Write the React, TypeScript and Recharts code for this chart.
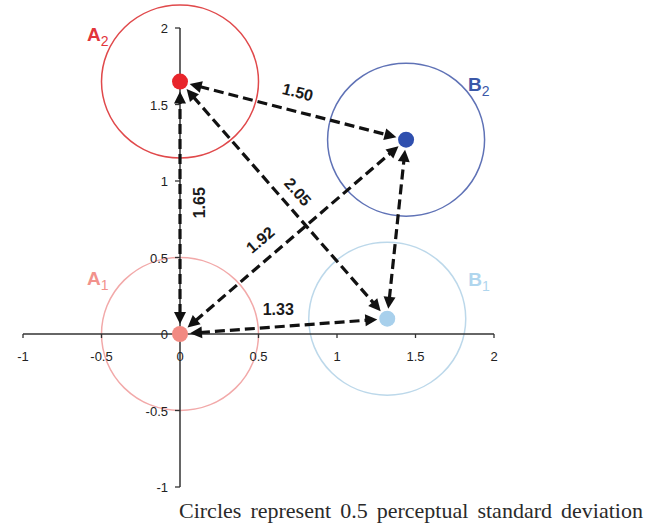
import React from 'react'
import { ScatterChart, Scatter, XAxis, YAxis, ReferenceLine, ReferenceArea, ReferenceDot } from 'recharts'

// stimulus positions in perceptual space
const pointNames = ['A1', 'A2', 'B1', 'B2']
const pointX = [0, 0, 1.32, 1.44]
const pointY = [0, 1.65, 0.1, 1.27]
const circleRadius = 0.5

// pairwise distances
const edgeFrom = ['A1', 'A1', 'A1', 'A2', 'A2', 'B1']
const edgeTo = ['A2', 'B1', 'B2', 'B1', 'B2', 'B2']
const edgeLabels = ['1.65', '1.33', '1.92', '2.05', '1.50', '']

const axisTicks = [-1, -0.5, 0, 0.5, 1, 1.5, 2]
const axisTickLabels = ['-1', '-0.5', '0', '0.5', '1', '1.5', '2']

const caption = 'Circles represent 0.5 perceptual standard deviation'

const points = pointNames.map((name, i) => ({ name, x: pointX[i], y: pointY[i] }))
const byName = Object.fromEntries(points.map((p) => [p.name, p]))

const dotColor: Record<string, string> = { A1: '#f28a82', A2: '#e8252b', B1: '#a8d0ec', B2: '#2f4fae' }
const ringColor: Record<string, string> = { A1: '#f2a9a9', A2: '#e0494b', B1: '#bcd8ea', B2: '#5f72b6' }
const nameColor: Record<string, string> = { A1: '#f2928c', A2: '#e2353b', B1: '#b0d6ee', B2: '#3b58a8' }
// where each name sits relative to its dot (px)
const nameOffset: Record<string, [number, number]> = { A1: [-93, -49], A2: [-93, -41], B1: [81, -33], B2: [62, -49] }
// label placement along each arrow: fraction along, px off the line, keep horizontal
const labelPlace: Record<string, { t: number; off: number; flat?: boolean }> = {
  '1.65': { t: 0.52, off: -20 },
  '1.33': { t: 0.48, off: 17, flat: true },
  '1.92': { t: 0.41, off: 19 },
  '2.05': { t: 0.51, off: 16 },
  '1.50': { t: 0.5, off: 19 },
}

const sans = "'Liberation Sans', Arial, sans-serif"
const ink = '#111'

const Ring = (props: any) => {
  const { x, y, width, height, stroke } = props
  return <ellipse cx={x + width / 2} cy={y + height / 2} rx={Math.abs(width) / 2} ry={Math.abs(height) / 2} fill="none" stroke={stroke} strokeWidth={1.5} />
}

const Arrow = (props: any) => {
  const { x1, y1, x2, y2, text } = props
  const dx = x2 - x1
  const dy = y2 - y1
  const len = Math.hypot(dx, dy)
  const ux = dx / len
  const uy = dy / len
  const nx = uy
  const ny = -ux
  const gap = 10
  const head = 12
  const hw = 6
  const head1 = (tx: number, ty: number, dirx: number, diry: number) => {
    const bx = tx + dirx * head
    const by = ty + diry * head
    return `${tx},${ty} ${bx + nx * hw},${by + ny * hw} ${bx - nx * hw},${by - ny * hw}`
  }
  const sx = x1 + ux * gap
  const sy = y1 + uy * gap
  const ex = x2 - ux * gap
  const ey = y2 - uy * gap
  let labelEl = null
  if (text) {
    const pl = labelPlace[text]
    const lx = x1 + dx * pl.t + nx * pl.off
    const ly = y1 + dy * pl.t + ny * pl.off
    const ang = pl.flat ? 0 : (Math.atan2(dy, dx) * 180) / Math.PI
    labelEl = (
      <text x={lx} y={ly} transform={`rotate(${ang} ${lx} ${ly})`} textAnchor="middle" dominantBaseline="central"
        fontFamily={sans} fontSize={16} fontWeight="bold" fill="#1a1a1a">
        {text}
      </text>
    )
  }
  return (
    <g>
      <line x1={sx + ux * (head - 2)} y1={sy + uy * (head - 2)} x2={ex - ux * (head - 2)} y2={ey - uy * (head - 2)}
        stroke={ink} strokeWidth={3.2} strokeDasharray="10 5" />
      <polygon points={head1(sx, sy, ux, uy)} fill={ink} />
      <polygon points={head1(ex, ey, -ux, -uy)} fill={ink} />
      {labelEl}
    </g>
  )
}

const XTick = (label: string) => (props: any) => {
  const { cx, cy } = props
  return (
    <g>
      <line x1={cx} y1={cy} x2={cx} y2={cy + 4} stroke="#333" strokeWidth={1.3} />
      <text x={cx} y={cy + 27} textAnchor="middle" fontFamily={sans} fontSize={13} fill="#222">{label}</text>
    </g>
  )
}

const YTick = (label: string) => (props: any) => {
  const { cx, cy } = props
  return (
    <g>
      <line x1={cx - 5} y1={cy} x2={cx} y2={cy} stroke="#333" strokeWidth={1.3} />
      <text x={cx - 12} y={cy + 5} textAnchor="end" fontFamily={sans} fontSize={13} fill="#222">{label}</text>
    </g>
  )
}

const PointShape = (props: any) => {
  const { cx, cy, payload } = props
  const name: string = payload.name
  const [ox, oy] = nameOffset[name]
  return (
    <g>
      <circle cx={cx} cy={cy} r={8} fill={dotColor[name]} />
      <text x={cx + ox} y={cy + oy} fontFamily={sans} fontSize={19} fontWeight="bold" fill={nameColor[name]}>
        {name[0]}
        <tspan fontSize={14} fontWeight="normal" dy={5}>{name.slice(1)}</tspan>
      </text>
    </g>
  )
}

export default function App() {
  return (
    <div style={{ position: 'relative', width: 659, height: 525, overflow: 'hidden', background: '#fff' }}>
      <style>{'body { margin: 0; }'}</style>
      <ScatterChart width={659} height={525} margin={{ top: 28, right: 165, bottom: 38, left: 23 }}>
        <XAxis type="number" dataKey="x" domain={[-1, 2]} hide />
        <YAxis type="number" dataKey="y" domain={[-1, 2]} hide />
        {points.map((p) => (
          <ReferenceArea key={'ring' + p.name} x1={p.x - circleRadius} x2={p.x + circleRadius}
            y1={p.y - circleRadius} y2={p.y + circleRadius} ifOverflow="visible"
            stroke={ringColor[p.name]} shape={<Ring />} />
        ))}
        <ReferenceLine y={0} stroke="#333" strokeWidth={1.5} />
        <ReferenceLine x={0} stroke="#333" strokeWidth={1.5} />
        {axisTicks.map((v, i) => (
          <ReferenceDot key={'xt' + v} x={v} y={0} r={0} shape={XTick(axisTickLabels[i])} />
        ))}
        {axisTicks.map((v, i) => (
          <ReferenceDot key={'yt' + v} x={0} y={v} r={0} shape={YTick(axisTickLabels[i])} />
        ))}
        <Scatter data={points} isAnimationActive={false} shape={<PointShape />} />
        {edgeFrom.map((f, i) => {
          const a = byName[f]
          const b = byName[edgeTo[i]]
          return (
            <ReferenceLine key={'e' + i} segment={[{ x: a.x, y: a.y }, { x: b.x, y: b.y }]} ifOverflow="visible"
              shape={(p: any) => <Arrow {...p} text={edgeLabels[i]} />} />
          )
        })}
      </ScatterChart>
      <div style={{ position: 'absolute', left: 179, top: 499.6, fontFamily: "'Liberation Serif', 'Times New Roman', serif",
        fontSize: 22, lineHeight: '22px', wordSpacing: 3.6, color: '#2a2a2a', whiteSpace: 'nowrap' }}>
        {caption}
      </div>
    </div>
  )
}
